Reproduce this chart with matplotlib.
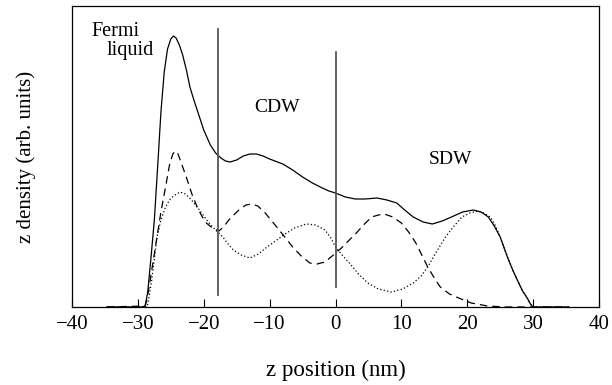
import matplotlib
matplotlib.use("Agg")
import matplotlib.pyplot as plt

# ---- data ----
total_x = [-34.7, -29.4, -28.9, -28.5, -28.0, -27.5, -27.0, -26.5, -26.0, -25.5, -25.0,
           -24.6, -24.2, -23.7, -23.2, -22.6, -22.1, -21.5, -21.0, -20.0, -19.0, -18.2,
           -17.4, -16.7, -16.0, -15.0, -14.0, -13.0, -12.0, -11.0, -10.0, -8.0, -6.5,
           -5.0, -3.5, -2.0, -1.0, 0.0, 1.5, 3.0, 4.5, 6.3, 7.8, 9.3, 10.5, 11.8, 13.3,
           14.7, 16.2, 17.6, 19.3, 20.9, 22.1, 23.2, 24.1, 25.0, 26.1, 26.9, 27.6, 28.4,
           29.1, 29.6, 30.0, 35.4]
total_y = [0.00, 0.00, 0.01, 0.15, 0.50, 0.87, 1.40, 1.95, 2.35, 2.58, 2.68,
           2.71, 2.69, 2.62, 2.52, 2.36, 2.20, 2.07, 1.97, 1.77, 1.62, 1.54,
           1.49, 1.46, 1.45, 1.47, 1.51, 1.53, 1.53, 1.51, 1.48, 1.43, 1.37,
           1.30, 1.24, 1.19, 1.16, 1.14, 1.10, 1.08, 1.08, 1.09, 1.07, 1.04, 0.97, 0.90, 0.85,
           0.83, 0.86, 0.90, 0.95, 0.97, 0.95, 0.90, 0.81, 0.70, 0.50, 0.37, 0.27, 0.16,
           0.09, 0.03, 0.00, 0.00]

dash_x = [-34.7, -28.9, -28.6, -28.3, -27.7, -27.1, -26.5, -25.8, -25.2, -24.7, -24.3,
          -23.9, -23.3, -22.5, -21.8, -21.0, -20.3, -19.6, -18.7, -17.7, -17.0, -16.2,
          -15.3, -14.5, -13.6, -12.7, -11.8, -10.8, -9.8, -8.8, -7.7, -6.5, -5.2, -3.9,
          -2.8, -1.6, -0.5, 0.9, 2.1, 3.3, 4.4, 5.5, 6.5, 7.4, 8.7, 10.0, 11.1, 12.2,
          13.1, 14.0, 15.0, 15.9, 17.3, 18.7, 20.6, 23.1, 25.7, 35.4]
dash_y = [0.00, 0.01, 0.08, 0.20, 0.45, 0.70, 0.95, 1.20, 1.42, 1.53, 1.56,
          1.53, 1.42, 1.27, 1.13, 1.00, 0.91, 0.84, 0.79, 0.76, 0.80, 0.87,
          0.93, 0.98, 1.02, 1.03, 1.01, 0.95, 0.87, 0.79, 0.70, 0.60, 0.51, 0.44,
          0.43, 0.45, 0.51, 0.59, 0.67, 0.75, 0.83, 0.90, 0.92, 0.93, 0.90, 0.84, 0.75, 0.64,
          0.52, 0.40, 0.29, 0.20, 0.13, 0.09, 0.04, 0.01, 0.00, 0.00]

dot_x = [-34.7, -28.6, -28.3, -27.9, -27.5, -27.1, -26.5, -25.8, -25.2, -24.6, -23.6,
         -22.8, -22.3, -21.6, -21.0, -20.1, -19.2, -18.2, -17.1, -16.3, -15.5, -14.3,
         -13.0, -11.7, -10.4, -9.1, -7.9, -6.2, -4.4, -3.0, -1.6, -0.7, 0.0, 1.0, 2.1,
         3.5, 4.9, 6.5, 8.5, 10.2, 11.8, 13.0, 14.0, 15.3, 16.7, 18.0, 19.2, 20.4, 21.6,
         22.5, 23.5, 24.3, 25.0, 26.1, 26.9, 27.6, 28.4, 29.1, 29.6, 30.0, 35.4]
dot_y = [0.00, 0.00, 0.10, 0.27, 0.48, 0.70, 0.87, 1.00, 1.07, 1.11, 1.15,
         1.13, 1.10, 1.05, 1.00, 0.92, 0.84, 0.77, 0.70, 0.63, 0.57, 0.52,
         0.49, 0.53, 0.60, 0.66, 0.72, 0.79, 0.83, 0.82, 0.77, 0.69, 0.60, 0.52, 0.44,
         0.33, 0.24, 0.18, 0.15, 0.18, 0.24, 0.31, 0.40, 0.55, 0.70, 0.81, 0.90, 0.94, 0.96,
         0.94, 0.90, 0.81, 0.70, 0.50, 0.37, 0.27, 0.16, 0.09, 0.03, 0.00, 0.00]

region_x = [-17.9, 0.0]
region_ymin = [0.12, 0.20]
region_ymax = [2.78, 2.55]

labels = ["Fermi", "liquid", "CDW", "SDW"]
label_x = [-33.4, -31.2, -8.9, 17.4]
label_y = [2.76, 2.57, 1.99, 1.47]

xticks = [-40, -30, -20, -10, 0, 10, 20, 30, 40]

# ---- figure ----
plt.rcParams['font.family'] = ['Liberation Serif', 'DejaVu Serif']

fig = plt.figure(figsize=(6.12, 3.85), dpi=100)
ax = fig.add_axes([72 / 612, (385 - 307) / 385, (599 - 72) / 612, (307 - 6) / 385])

ax.plot(total_x, total_y, color='black', lw=0.9, solid_joinstyle='round')
ax.plot(dash_x, dash_y, color='black', lw=0.9, linestyle=(0, (6, 4)))
ax.plot(dot_x, dot_y, color='black', lw=0.9, linestyle=(0, (1, 1.8)))

for xv, y0, y1 in zip(region_x, region_ymin, region_ymax):
    ax.plot([xv, xv], [y0, y1], color='#555555', lw=1.3)

sizes = [14.5, 14.5, 14, 14]
for t, xv, yv, s in zip(labels, label_x, label_y, sizes):
    ax.text(xv, yv, t, ha='center', va='center', fontsize=s)

ax.set_xlim(-40, 40)
ax.set_ylim(0, 3.01)
ax.set_xticks(xticks)
ax.set_xticklabels([str(v).replace('-', '\u2212') for v in xticks])
ax.set_yticks([])
ax.tick_params(axis='x', direction='in', length=6, width=0.8, labelsize=15, pad=6)
for sp in ax.spines.values():
    sp.set_linewidth(0.9)

ax.set_xlabel('z position (nm)', fontsize=16.5, labelpad=18)
ax.set_ylabel('z density (arb. units)', fontsize=15, labelpad=26)

fig.savefig('out.png', dpi=100)
